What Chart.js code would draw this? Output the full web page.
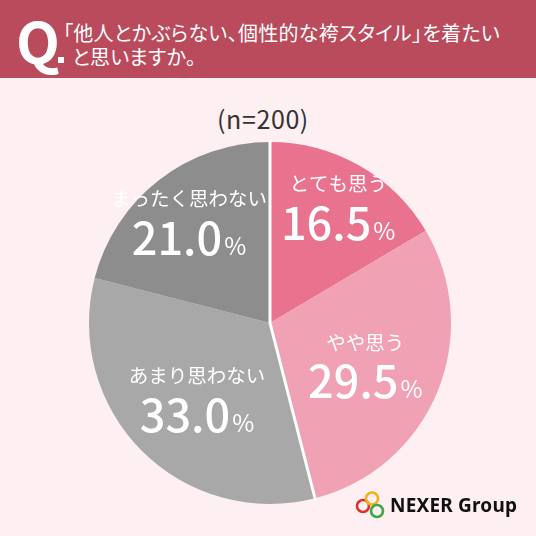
<!DOCTYPE html>
<html lang="ja">
<head>
<meta charset="utf-8">
<script src="https://cdn.jsdelivr.net/npm/chart.js@4.4.1/dist/chart.umd.min.js"></script>
<style>
  html, body { margin: 0; padding: 0; }
  body {
    width: 536px; height: 536px; position: relative; overflow: hidden;
    background: #fdeff2;
    font-family: "Noto Sans CJK JP", "Noto Sans", sans-serif;
  }
  .header {
    position: absolute; left: 0; top: 0; width: 536px; height: 78px;
    background: #b94b5d; color: #fff;
  }
  .q { position: absolute; left: 16px; top: 0px; font-size: 57px; font-weight: 700; line-height: 78px; }
  .qdot { position: absolute; left: 58px; top: 57px; width: 6px; height: 6px; background: #fff; }
  .question {
    position: absolute; left: 63px; top: 21px; font-size: 20px; line-height: 24px;
    font-feature-settings: "palt"; letter-spacing: 0.3px;
  }
  .question .l2 { padding-left: 9px; }
  .n { position: absolute; left: 0; width: 526px; top: 100px; text-align: center; font-size: 25px; color: #333; letter-spacing: 0.6px; }
  #wrap { position: absolute; left: 0; top: 0; width: 536px; height: 536px; }
  .logo { position: absolute; left: 354px; top: 488px; height: 34px; display: flex; align-items: center; }
  .logo span { font-family: "Noto Sans", sans-serif; font-size: 19px; font-weight: 700; color: #111; margin-left: 4px; letter-spacing: 0.2px; }
</style>
</head>
<body>
<div class="header">
  <div class="q">Q</div>
  <div class="qdot"></div>
  <div class="question">「他人とかぶらない、個性的な袴スタイル」を着たい<br><span class="l2">と思いますか。</span></div>
</div>
<div class="n" id="nLabel"></div>
<div id="wrap"><canvas id="pieChart"></canvas></div>
<div class="logo">
  <svg width="32" height="30" viewBox="0 0 32 30">
    <circle cx="9" cy="16" r="6" fill="none" stroke="#d9352b" stroke-width="2.6"/>
    <circle cx="18" cy="8.5" r="6" fill="none" stroke="#f2b21b" stroke-width="2.6"/>
    <circle cx="23" cy="21" r="6" fill="none" stroke="#3ea845" stroke-width="2.6"/>
  </svg>
  <span>NEXER Group</span>
</div>
<script>
// chart data
const categories = ["とても思う", "やや思う", "あまり思わない", "まったく思わない"];
const percentages = [16.5, 29.5, 33.0, 21.0];
const sampleLabel = "(n=200)";

const sliceColors = ["#e9738f", "#f0a1b4", "#a8a8a8", "#8d8d8d"];
// how far out each label sits (fraction of radius)
const labelRadius = [0.76, 0.57, 0.57, 0.73];

document.getElementById("nLabel").textContent = sampleLabel;

// white gap between the pink and grey groups
const separators = {
  id: "separators",
  afterDatasetsDraw(chart) {
    const arcs = chart.getDatasetMeta(0).data;
    const ctx = chart.ctx;
    const edges = [arcs[0].startAngle, arcs[1].endAngle];
    ctx.save();
    ctx.strokeStyle = "#ffffff";
    ctx.lineWidth = 3;
    edges.forEach((a) => {
      ctx.beginPath();
      ctx.moveTo(arcs[0].x, arcs[0].y);
      ctx.lineTo(arcs[0].x + Math.cos(a) * (arcs[0].outerRadius + 2), arcs[0].y + Math.sin(a) * (arcs[0].outerRadius + 2));
      ctx.stroke();
    });
    ctx.restore();
  },
};

// category name + percentage inside each slice
const sliceLabels = {
  id: "sliceLabels",
  afterDatasetsDraw(chart) {
    const arcs = chart.getDatasetMeta(0).data;
    const ctx = chart.ctx;
    ctx.save();
    ctx.fillStyle = "#ffffff";
    arcs.forEach((arc, i) => {
      const mid = (arc.startAngle + arc.endAngle) / 2;
      const r = arc.outerRadius * labelRadius[i];
      const cx = arc.x + Math.cos(mid) * r;
      const cy = arc.y + Math.sin(mid) * r;

      ctx.textAlign = "center";
      ctx.textBaseline = "middle";
      ctx.font = '400 19.5px "Noto Sans CJK JP"';
      ctx.fillText(categories[i], cx, cy - 20);

      const num = percentages[i].toFixed(1);
      ctx.textBaseline = "alphabetic";
      ctx.font = '500 45px "Noto Sans CJK JP"';
      const wNum = ctx.measureText(num).width;
      ctx.font = '400 24px "Noto Sans CJK JP"';
      const wPct = ctx.measureText("%").width;
      const x0 = cx - (wNum + wPct + 2) / 2;
      const base = cy + 36;
      ctx.textAlign = "left";
      ctx.font = '500 45px "Noto Sans CJK JP"';
      ctx.fillText(num, x0, base);
      ctx.font = '400 24px "Noto Sans CJK JP"';
      ctx.fillText("%", x0 + wNum + 2, base);
    });
    ctx.restore();
  },
};

const ctx = document.getElementById("pieChart").getContext("2d");
const pieChart = new Chart(ctx, {
  type: "pie",
  data: {
    labels: categories,
    datasets: [
      {
        data: percentages,
        backgroundColor: sliceColors,
        borderWidth: 0,
      },
    ],
  },
  options: {
    responsive: true,
    maintainAspectRatio: false,
    animation: false,
    layout: { padding: { left: 89, right: 85, top: 142, bottom: 32 } },
    plugins: {
      legend: { display: false },
      tooltip: { enabled: false },
    },
  },
  plugins: [separators, sliceLabels],
});
</script>
</body>
</html>
